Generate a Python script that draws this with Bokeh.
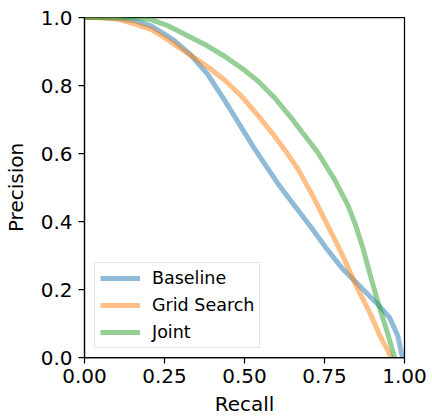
from bokeh.plotting import figure
from bokeh.models import Range1d, FixedTicker, Legend, LegendItem
from bokeh.embed import file_html
from bokeh.resources import INLINE

# ---- data ----
baseline_recall = [0.0, 0.05, 0.104, 0.156, 0.208, 0.26, 0.281, 0.333, 0.385, 0.4375,
                   0.49, 0.526, 0.552, 0.604, 0.656, 0.708, 0.755, 0.807, 0.859, 0.911,
                   0.953, 0.979, 0.99, 0.995]
baseline_precision = [1.0, 1.0, 0.997, 0.991, 0.975, 0.945, 0.932, 0.889, 0.833, 0.757,
                      0.677, 0.622, 0.585, 0.512, 0.447, 0.383, 0.322, 0.260, 0.211, 0.162,
                      0.118, 0.064, 0.015, 0.0]

grid_recall = [0.0, 0.05, 0.104, 0.156, 0.208, 0.26, 0.281, 0.333, 0.385, 0.4375,
               0.49, 0.542, 0.594, 0.625, 0.667, 0.708, 0.75, 0.792, 0.807, 0.849,
               0.891, 0.922, 0.948, 0.958]
grid_precision = [1.0, 0.999, 0.995, 0.981, 0.965, 0.935, 0.921, 0.888, 0.855, 0.816,
                  0.769, 0.712, 0.651, 0.612, 0.554, 0.485, 0.407, 0.328, 0.299, 0.211,
                  0.133, 0.066, 0.020, 0.0]

joint_recall = [0.0, 0.05, 0.104, 0.156, 0.208, 0.26, 0.281, 0.333, 0.385, 0.4375,
                0.49, 0.542, 0.594, 0.646, 0.672, 0.729, 0.781, 0.823, 0.848, 0.870,
                0.896, 0.922, 0.943, 0.958, 0.969]
joint_precision = [1.0, 1.0, 1.0, 0.999, 0.994, 0.976, 0.966, 0.941, 0.916, 0.886,
                   0.852, 0.813, 0.764, 0.705, 0.673, 0.603, 0.524, 0.448, 0.387, 0.322,
                   0.232, 0.147, 0.084, 0.037, 0.0]

series_names = ["Baseline", "Grid Search", "Joint"]
series_colors = ["#1f77b4", "#ff7f0e", "#2ca02c"]

x_ticks = [0.0, 0.25, 0.5, 0.75, 1.0]
x_tick_labels = ["0.00", "0.25", "0.50", "0.75", "1.00"]
y_ticks = [0.0, 0.2, 0.4, 0.6, 0.8, 1.0]
y_tick_labels = ["0.0", "0.2", "0.4", "0.6", "0.8", "1.0"]

FONT = "DejaVu Sans"

p = figure(frame_width=320, frame_height=340,
           min_border_left=84, min_border_right=26,
           min_border_top=17, min_border_bottom=58,
           x_range=Range1d(0, 1), y_range=Range1d(0, 1),
           output_backend="svg", toolbar_location=None,
           x_axis_label="Recall", y_axis_label="Precision")

p.grid.visible = False
p.outline_line_color = "black"
p.outline_line_width = 1.25
p.outline_line_alpha = 1.0
p.background_fill_color = "white"
p.border_fill_color = "white"

for ax, ticks, labels in ((p.xaxis[0], x_ticks, x_tick_labels), (p.yaxis[0], y_ticks, y_tick_labels)):
    ax.ticker = FixedTicker(ticks=ticks)
    ax.major_label_overrides = {t: l for t, l in zip(ticks, labels)}
    ax.minor_tick_line_color = None
    ax.major_tick_out = 6
    ax.major_tick_in = 0
    ax.major_tick_line_width = 1.25
    ax.major_tick_line_color = "black"
    ax.axis_line_color = "black"
    ax.axis_line_width = 1.25
    ax.major_label_text_font = FONT
    ax.major_label_text_font_size = "20px"
    ax.major_label_text_color = "black"
    ax.axis_label_text_font = FONT
    ax.axis_label_text_font_size = "20px"
    ax.axis_label_text_font_style = "normal"
    ax.axis_label_text_color = "black"

p.xaxis.major_label_standoff = 5
p.xaxis.axis_label_standoff = 6
p.yaxis.major_label_standoff = 6
p.yaxis.axis_label_standoff = 10

data = [(baseline_recall, baseline_precision),
        (grid_recall, grid_precision),
        (joint_recall, joint_precision)]

items = []
for (xs, ys), name, color in zip(data, series_names, series_colors):
    r = p.line(xs, ys, line_color=color, line_alpha=0.5, line_width=5,
               line_join="round")
    items.append(LegendItem(label=name, renderers=[r]))

legend = Legend(items=items, location=(10, 9), margin=0,
                padding=5, spacing=7, label_standoff=12,
                glyph_width=40, glyph_height=20, label_height=20,
                label_text_font=FONT, label_text_font_size="17.5px",
                label_text_color="black",
                border_line_color="#cccccc", border_line_width=1.25,
                background_fill_color="white", background_fill_alpha=0.8)
p.add_layout(legend, "center")

open("out.html", "w").write(file_html(p, INLINE))
